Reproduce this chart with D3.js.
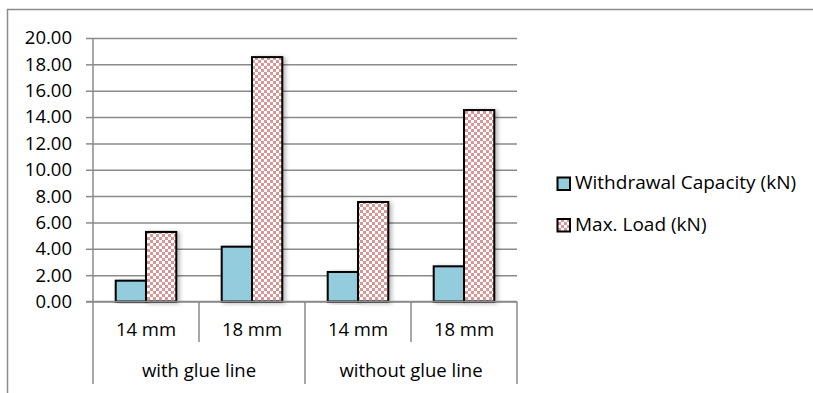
<!DOCTYPE html>
<html>
<head>
<meta charset="utf-8">
<script src="https://cdn.jsdelivr.net/npm/d3@7"></script>
<style>
  html, body { margin: 0; padding: 0; background: #fff; }
  svg { display: block; }
  text { font-family: "Open Sans", "Noto Sans", sans-serif; fill: #000; }
</style>
</head>
<body>
<svg id="chart" width="813" height="393"></svg>
<script>
// Test results per specimen: two groups, two screw sizes each
const groups = ["with glue line", "without glue line"];
const sizes = ["14 mm", "18 mm"];
const seriesNames = ["Withdrawal Capacity (kN)", "Max. Load (kN)"];
const withdrawalCapacity = [1.58, 4.16, 2.24, 2.67];
const maxLoad = [5.28, 18.55, 7.55, 14.53];
const yTickValues = [0, 2, 4, 6, 8, 10, 12, 14, 16, 18, 20];

const categories = [];
groups.forEach((g, gi) => sizes.forEach((s, si) => categories.push({ group: g, size: s, idx: gi * sizes.length + si })));
const rows = categories.map(c => ({
  ...c,
  values: [withdrawalCapacity[c.idx], maxLoad[c.idx]]
}));

const svg = d3.select("#chart");
const gridColor = "#8a8a8a";
const blue = "#93cddd";
const pink = "#d99694";
const FS = 18.5;
const LEGEND_FS = 19;

const plot = { left: 93, right: 517, top: 38, bottom: 301.5 };

// Patterns and shadow
const defs = svg.append("defs");
const pat = defs.append("pattern")
  .attr("id", "checker")
  .attr("patternUnits", "userSpaceOnUse")
  .attr("width", 6).attr("height", 6);
pat.append("rect").attr("width", 6).attr("height", 6).attr("fill", "#fff");
pat.append("rect").attr("width", 3).attr("height", 3).attr("fill", pink);
pat.append("rect").attr("x", 3).attr("y", 3).attr("width", 3).attr("height", 3).attr("fill", pink);

const shadow = defs.append("filter")
  .attr("id", "shadow")
  .attr("x", "-30%").attr("y", "-10%").attr("width", "160%").attr("height", "120%");
shadow.append("feDropShadow")
  .attr("dx", 2.5).attr("dy", 1)
  .attr("stdDeviation", 2)
  .attr("flood-color", "#000")
  .attr("flood-opacity", 0.28);

const fills = [blue, "url(#checker)"];

// Outer frame (top and left edges visible)
svg.append("path")
  .attr("d", "M7.5,393 L7.5,9.5 L813,9.5")
  .attr("fill", "none")
  .attr("stroke", gridColor)
  .attr("stroke-width", 1.5);

// Scales
const x0 = d3.scaleBand()
  .domain(rows.map(r => r.idx))
  .range([plot.left, plot.right])
  .paddingInner(0).paddingOuter(0);
const x1 = d3.scaleBand()
  .domain([0, 1])
  .range([0, x0.bandwidth()])
  .paddingInner(0).paddingOuter(0.75);
const y = d3.scaleLinear().domain([0, 20]).range([plot.bottom, plot.top]);

// Gridlines
const grid = svg.append("g")
  .attr("transform", `translate(${plot.left},0)`)
  .call(d3.axisLeft(y).tickValues(yTickValues).tickSize(-(plot.right - plot.left)).tickFormat(""));
grid.select(".domain").remove();
grid.selectAll("line").attr("stroke", gridColor).attr("stroke-width", 1.5);

// Y axis ticks and labels
const yAxis = svg.append("g")
  .attr("transform", `translate(${plot.left},0)`)
  .call(d3.axisLeft(y).tickValues(yTickValues).tickSize(7).tickPadding(14).tickFormat(d3.format(".2f")));
yAxis.select(".domain").remove();
yAxis.selectAll("line").attr("stroke", gridColor).attr("stroke-width", 1.5);
yAxis.selectAll("text")
  .attr("font-size", FS)
  .attr("font-family", "'Open Sans', sans-serif")
  .attr("fill", "#000");

// Vertical axis line
svg.append("line")
  .attr("x1", plot.left).attr("x2", plot.left)
  .attr("y1", plot.top).attr("y2", plot.bottom)
  .attr("stroke", gridColor).attr("stroke-width", 1.5);

// Bars
const barG = svg.append("g");
rows.forEach(r => {
  r.values.forEach((v, si) => {
    barG.append("rect")
      .attr("x", x0(r.idx) + x1(si))
      .attr("y", y(v))
      .attr("width", x1.bandwidth())
      .attr("height", y(0) - y(v))
      .attr("fill", fills[si])
      .attr("stroke", "#000")
      .attr("stroke-width", 2)
      .attr("filter", "url(#shadow)");
  });
});

// Baseline
svg.append("line")
  .attr("x1", plot.left - 7).attr("x2", plot.right)
  .attr("y1", plot.bottom).attr("y2", plot.bottom)
  .attr("stroke", gridColor).attr("stroke-width", 1.5);

// Category separators (short) and group separators (long)
const sepG = svg.append("g").attr("stroke", gridColor).attr("stroke-width", 1.5);
rows.forEach((r, i) => {
  const xl = x0(r.idx);
  const isGroupEdge = i % sizes.length === 0;
  sepG.append("line")
    .attr("x1", xl).attr("x2", xl)
    .attr("y1", plot.bottom).attr("y2", isGroupEdge ? 384 : 342);
});
sepG.append("line")
  .attr("x1", plot.right).attr("x2", plot.right)
  .attr("y1", plot.bottom).attr("y2", 384);

// Category labels
svg.append("g").selectAll("text")
  .data(rows)
  .join("text")
  .attr("x", d => x0(d.idx) + x0.bandwidth() / 2)
  .attr("y", 335.5)
  .attr("text-anchor", "middle")
  .attr("font-size", FS)
  .text(d => d.size);

// Group labels
svg.append("g").selectAll("text")
  .data(groups)
  .join("text")
  .attr("x", (g, gi) => {
    const first = x0(gi * sizes.length);
    const last = x0(gi * sizes.length + sizes.length - 1) + x0.bandwidth();
    return (first + last) / 2;
  })
  .attr("y", 376.5)
  .attr("text-anchor", "middle")
  .attr("font-size", FS)
  .text(d => d);

// Legend
const legend = svg.append("g");
seriesNames.forEach((name, i) => {
  const ly = 177.5 + i * 41.5;
  legend.append("rect")
    .attr("x", 557.5).attr("y", ly)
    .attr("width", 12.5).attr("height", 12.5)
    .attr("fill", fills[i])
    .attr("stroke", "#000").attr("stroke-width", 2);
  legend.append("text")
    .attr("x", 575).attr("y", ly + 11.5)
    .attr("font-size", LEGEND_FS)
    .text(name);
});
</script>
</body>
</html>
